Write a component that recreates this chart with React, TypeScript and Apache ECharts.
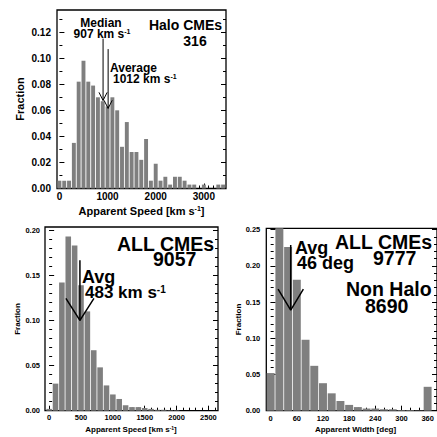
import React, { useEffect, useRef } from "react";
import * as echarts from "echarts";

const FONT = '"Liberation Sans", Arial, Helvetica, sans-serif';

// ---------------- data ----------------
// Halo CMEs, apparent speed histogram (bin centres, km/s)
const haloSpeedBins = [0, 100, 200, 300, 400, 500, 600, 700, 800, 900, 1000, 1100, 1200, 1300, 1400, 1500, 1600, 1700, 1800, 1900, 2000, 2100, 2200, 2300, 2400, 2500, 2600, 2700, 2800, 2900, 3000, 3100, 3200, 3300, 3400];
const haloSpeedFraction = [0.006, 0.006, 0.006, 0.035, 0.082, 0.098, 0.082, 0.079, 0.070, 0.067, 0.063, 0.070, 0.060, 0.032, 0.051, 0.028, 0.028, 0.022, 0.038, 0.006, 0.019, 0.006, 0.009, 0.003, 0.009, 0.009, 0.006, 0.003, 0.003, 0, 0.003, 0, 0, 0.003, 0.003];

// All CMEs, apparent speed histogram
const allSpeedBins = [0, 100, 200, 300, 400, 500, 600, 700, 800, 900, 1000, 1100, 1200, 1300, 1400, 1500, 1600, 1700, 1800, 1900, 2000];
const allSpeedFraction = [0.002, 0.030, 0.142, 0.193, 0.183, 0.139, 0.110, 0.067, 0.048, 0.028, 0.018, 0.013, 0.006, 0.004, 0.004, 0.003, 0.002, 0.001, 0.001, 0.0005, 0.0005];

// All CMEs, apparent width histogram (deg)
const widthBins = [0, 20, 40, 60, 80, 100, 120, 140, 160, 180, 200, 220, 240, 260, 280, 300, 320, 340, 360];
const widthFraction = [0.052, 0.252, 0.226, 0.181, 0.098, 0.062, 0.038, 0.024, 0.0134, 0.008, 0.005, 0.003, 0.003, 0.002, 0.002, 0.001, 0.001, 0.0005, 0.033];

// summary values
const haloMedianSpeed = 907;
const haloAverageSpeed = 1012;
const allAverageSpeed = 483;
const allAverageWidth = 46;

// tick labels
const haloSpeedTicks = [0, 1000, 2000, 3000];
const haloFractionTicks = [0, 0.02, 0.04, 0.06, 0.08, 0.1, 0.12];
const allSpeedTicks = [0, 500, 1000, 1500, 2000, 2500];
const allFractionTicks = [0, 0.05, 0.1, 0.15, 0.2];
const widthTicks = [0, 60, 120, 180, 240, 300, 360];
const widthFractionTicks = [0, 0.05, 0.1, 0.15, 0.2, 0.25];

function steps(start: number, end: number, step: number): number[] {
  const out: number[] = [];
  const n = Math.round((end - start) / step);
  for (let i = 0; i <= n; i++) out.push(+(start + i * step).toFixed(6));
  return out;
}

type Arrow = { x: number; yTop: number; yTip: number; dx: number; dy: number; w: number };
type Panel = {
  grid: { left: number; top: number; width: number; height: number };
  xMin: number; xMax: number; yMax: number;
  bins: number[]; values: number[]; binSize: number; gapPx: number;
  xTicks: number[]; xMinor: number[]; yTicks: number[]; yMinor: number[];
  labelSize: number; xLabelMargin: number; yLabelMargin: number;
  majorLen: number; minorLen: number; arrows: Arrow[];
};

const panels: Panel[] = [
  {
    grid: { left: 57, top: 10, width: 169, height: 178.5 },
    xMin: -50, xMax: 3460, yMax: 0.137,
    bins: haloSpeedBins, values: haloSpeedFraction, binSize: 100, gapPx: 0.9,
    xTicks: haloSpeedTicks, xMinor: steps(0, 3400, 100),
    yTicks: haloFractionTicks, yMinor: steps(0.01, 0.13, 0.02),
    labelSize: 10, xLabelMargin: 3, yLabelMargin: 6, majorLen: 5, minorLen: 3,
    arrows: [
      { x: haloMedianSpeed, yTop: 0.115, yTip: 0.0676, dx: 85, dy: 0.0062, w: 1 },
      { x: haloAverageSpeed, yTop: 0.107, yTip: 0.0615, dx: 85, dy: 0.0062, w: 1 },
    ],
  },
  {
    grid: { left: 45, top: 227, width: 173, height: 183.7 },
    xMin: -65, xMax: 2650, yMax: 0.2035,
    bins: allSpeedBins, values: allSpeedFraction, binSize: 100, gapPx: 0.8,
    xTicks: allSpeedTicks, xMinor: steps(0, 2600, 100),
    yTicks: allFractionTicks, yMinor: steps(0.01, 0.2, 0.01),
    labelSize: 7.5, xLabelMargin: 3, yLabelMargin: 5, majorLen: 5, minorLen: 3,
    arrows: [{ x: allAverageSpeed, yTop: 0.1668, yTip: 0.1, dx: 220, dy: 0.0244, w: 1.5 }],
  },
  {
    grid: { left: 266.3, top: 228.3, width: 175, height: 182.4 },
    xMin: -10, xMax: 381.5, yMax: 0.252,
    bins: widthBins, values: widthFraction, binSize: 20, gapPx: 1,
    xTicks: widthTicks, xMinor: steps(0, 360, 20),
    yTicks: widthFractionTicks, yMinor: steps(0.01, 0.25, 0.01),
    labelSize: 7.5, xLabelMargin: 3.5, yLabelMargin: 6, majorLen: 5, minorLen: 3,
    arrows: [{ x: allAverageWidth, yTop: 0.229, yTip: 0.139, dx: 29, dy: 0.029, w: 1.5 }],
  },
];

type Line = { text: string; sup?: string; tail?: string; size: number; pad?: number };
type Label = { lines: Line[]; x: number; y: number; lh: number; align: string; rot?: number };

const labels: Label[] = [
  // panel 1
  { lines: [{ text: "Median", size: 12 }, { text: "907 km s", sup: "-1", size: 12, pad: 2 }], x: 101, y: 28.25, lh: 10.5, align: "center" },
  { lines: [{ text: "Average", size: 12 }, { text: "1012 km s", sup: "-1", size: 12, pad: 3 }], x: 110, y: 73.25, lh: 10.5, align: "left" },
  { lines: [{ text: "Halo CMEs", size: 14 }, { text: "316", size: 14, pad: 19 }], x: 185.5, y: 32.75, lh: 15.5, align: "center" },
  { lines: [{ text: "Fraction", size: 11 }], x: 19.5, y: 99, lh: 11, align: "center", rot: Math.PI / 2 },
  { lines: [{ text: "Apparent Speed [km s", sup: "-1", tail: "]", size: 11 }], x: 141.5, y: 210.5, lh: 11, align: "center" },
  // panel 2
  { lines: [{ text: "ALL CMEs", size: 19.5 }, { text: "9057", size: 19.5, pad: 36 }], x: 117, y: 251, lh: 15, align: "left" },
  { lines: [{ text: "Avg", size: 18 }, { text: "483 km s", sup: "-1", size: 17, pad: 3 }], x: 82, y: 284.5, lh: 15, align: "left" },
  { lines: [{ text: "Fraction", size: 8 }], x: 17, y: 319, lh: 8, align: "center", rot: Math.PI / 2 },
  { lines: [{ text: "Apparent Speed [km s", sup: "-1", tail: "]", size: 8 }], x: 131, y: 429, lh: 8, align: "center" },
  // panel 3
  { lines: [{ text: "ALL CMEs", size: 19.5 }, { text: "9777", size: 19.5, pad: 38 }], x: 335, y: 249.5, lh: 16, align: "left" },
  { lines: [{ text: "Avg", size: 18 }, { text: "46 deg", size: 18, pad: 2 }], x: 295, y: 255.25, lh: 14.5, align: "left" },
  { lines: [{ text: "Non Halo", size: 19.5 }, { text: "8690", size: 19.5, pad: 19 }], x: 346, y: 297.25, lh: 16.5, align: "left" },
  { lines: [{ text: "Fraction", size: 8 }], x: 238.7, y: 319.5, lh: 8, align: "center", rot: Math.PI / 2 },
  { lines: [{ text: "Apparent Width [deg]", size: 8 }], x: 355.5, y: 429, lh: 8, align: "center" },
];

function buildLabel(l: Label): any {
  const rich: any = {};
  const rows: string[] = [];
  l.lines.forEach((ln, i) => {
    const common = { fontSize: ln.size, fontWeight: "bold", fontFamily: FONT, fill: "#000", lineHeight: l.lh };
    rich[`p${i}`] = { ...common, padding: [0, 0, 0, ln.pad || 0] };
    rich[`a${i}`] = common;
    const supSize = Math.max(5, Math.round(ln.size * 0.6));
    rich[`b${i}`] = {
      fontSize: supSize, fontWeight: "bold", fontFamily: FONT, fill: "#000",
      verticalAlign: "top", lineHeight: Math.max(0.5, l.lh - 0.66 * ln.size),
    };
    let row = `{p${i}|${ln.text}}`;
    if (ln.sup) row += `{b${i}|${ln.sup}}`;
    if (ln.tail) row += `{a${i}|${ln.tail}}`;
    rows.push(row);
  });
  return {
    type: "text",
    x: l.x,
    y: l.y,
    rotation: l.rot || 0,
    z: 100,
    style: {
      text: rows.join("\n"),
      rich,
      fontSize: l.lines[0].size,
      fontWeight: "bold",
      fontFamily: FONT,
      fill: "#000",
      align: l.align,
      verticalAlign: "middle",
    },
  };
}

function buildOption(): any {
  const option: any = { animation: false, grid: [], xAxis: [], yAxis: [], series: [], graphic: labels.map(buildLabel) };
  panels.forEach((p, gi) => {
    option.grid.push({ ...p.grid, show: true, borderColor: "#000", borderWidth: 1.3, backgroundColor: "transparent" });
    const xBase = option.xAxis.length;
    const yBase = option.yAxis.length;
    const tickStyle = { color: "#000", width: 1 };
    const labelStyle = { fontSize: p.labelSize, fontWeight: "bold", fontFamily: FONT, color: "#000" };
    const xc = { type: "value", gridIndex: gi, min: p.xMin, max: p.xMax, axisLine: { show: false }, splitLine: { show: false }, position: "bottom" };
    option.xAxis.push({
      ...xc,
      axisTick: { show: true, inside: true, length: p.majorLen, customValues: p.xTicks, lineStyle: tickStyle },
      axisLabel: { show: true, customValues: p.xTicks, margin: p.xLabelMargin, ...labelStyle, formatter: (v: number) => String(Math.round(v)) },
    });
    option.xAxis.push({
      ...xc,
      axisTick: { show: true, inside: true, length: p.minorLen, customValues: p.xMinor, lineStyle: tickStyle },
      axisLabel: { show: false },
    });
    const yc = { type: "value", gridIndex: gi, min: 0, max: p.yMax, axisLine: { show: false }, splitLine: { show: false } };
    option.yAxis.push({
      ...yc, position: "left",
      axisTick: { show: true, inside: true, length: p.majorLen, customValues: p.yTicks, lineStyle: tickStyle },
      axisLabel: { show: true, customValues: p.yTicks, margin: p.yLabelMargin, ...labelStyle, formatter: (v: number) => v.toFixed(2) },
    });
    option.yAxis.push({
      ...yc, position: "left",
      axisTick: { show: true, inside: true, length: p.minorLen, customValues: p.yMinor, lineStyle: tickStyle },
      axisLabel: { show: false },
    });
    option.yAxis.push({
      ...yc, position: "right",
      axisTick: { show: true, inside: true, length: p.majorLen, customValues: p.yTicks, lineStyle: tickStyle },
      axisLabel: { show: false },
    });
    option.yAxis.push({
      ...yc, position: "right",
      axisTick: { show: true, inside: true, length: p.minorLen, customValues: p.yMinor, lineStyle: tickStyle },
      axisLabel: { show: false },
    });
    const binPx = (p.grid.width * p.binSize) / (p.xMax - p.xMin);
    option.series.push({
      type: "bar",
      xAxisIndex: xBase,
      yAxisIndex: yBase,
      barWidth: binPx - p.gapPx,
      data: p.bins.map((b, i) => [b, p.values[i]]),
      itemStyle: { color: "#7f7f7f" },
      clip: true,
      z: 2,
    });
    p.arrows.forEach((a) => {
      const ls = { color: "#000", width: a.w };
      option.series.push({
        type: "line", xAxisIndex: xBase, yAxisIndex: yBase, symbol: "none", z: 5,
        lineStyle: ls, data: [[a.x, a.yTop], [a.x, a.yTip]],
      });
      option.series.push({
        type: "line", xAxisIndex: xBase, yAxisIndex: yBase, symbol: "none", z: 5,
        lineStyle: ls, data: [[a.x - a.dx, a.yTip + a.dy], [a.x, a.yTip], [a.x + a.dx, a.yTip + a.dy]],
      });
    });
  });
  return option;
}

export default function App() {
  const ref = useRef<HTMLDivElement>(null);
  useEffect(() => {
    if (!ref.current) return;
    const chart = echarts.init(ref.current, undefined, { renderer: "svg" });
    chart.setOption(buildOption());
    return () => chart.dispose();
  }, []);
  return (
    <div
      ref={ref}
      style={{ position: "fixed", left: 0, top: 0, width: 437, height: 437, background: "#fff", overflow: "hidden" }}
    />
  );
}
